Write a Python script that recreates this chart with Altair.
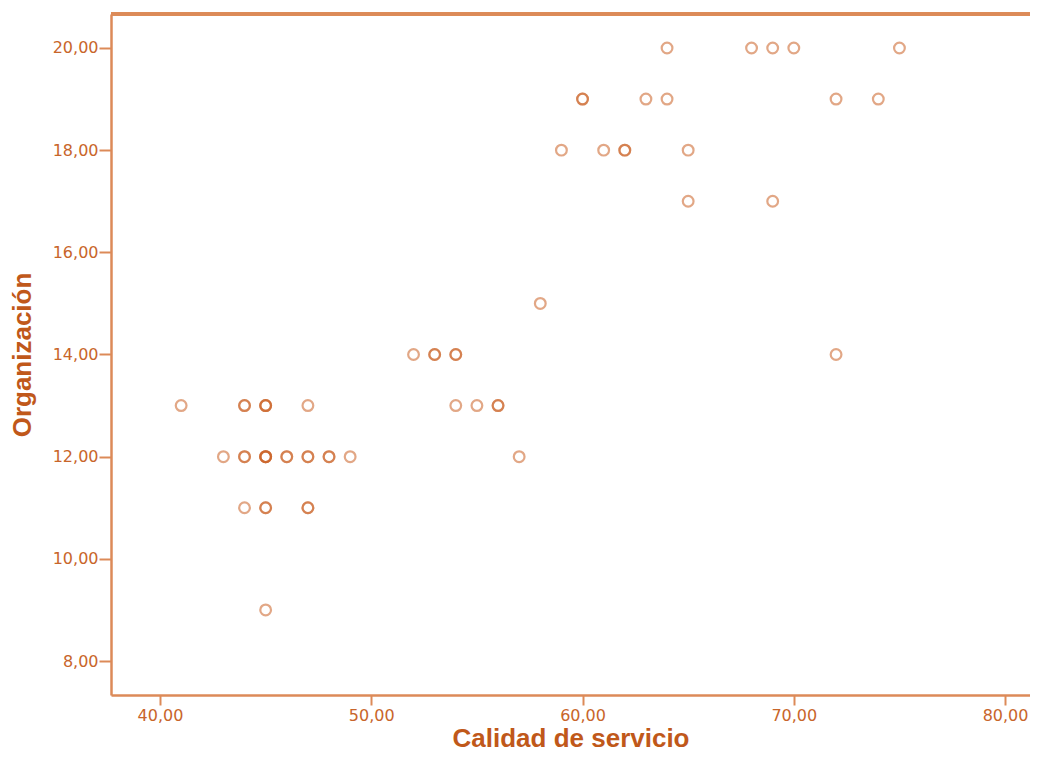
import altair as alt
import pandas as pd

# Calidad de servicio (x) and Organización (y); repeated pairs are overlapping cases
calidad = [
    64, 68, 69, 70, 75,
    60, 60, 63, 64, 72, 74,
    59, 61, 62, 62, 65,
    65, 69,
    58,
    52, 53, 53, 54, 54, 72,
    41, 44, 44, 45, 45, 45, 47, 54, 55, 56, 56,
    43, 44, 44, 45, 45, 45, 45, 46, 46, 47, 47, 48, 48, 49, 57,
    44, 45, 45, 47, 47,
    45,
]
organizacion = [
    20, 20, 20, 20, 20,
    19, 19, 19, 19, 19, 19,
    18, 18, 18, 18, 18,
    17, 17,
    15,
    14, 14, 14, 14, 14, 14,
    13, 13, 13, 13, 13, 13, 13, 13, 13, 13, 13,
    12, 12, 12, 12, 12, 12, 12, 12, 12, 12, 12, 12, 12, 12, 12,
    11, 11, 11, 11, 11,
    9,
]
x_ticks = [40, 50, 60, 70, 80]
y_ticks = [8, 10, 12, 14, 16, 18, 20]

df = pd.DataFrame({"Calidad de servicio": calidad, "Organización": organizacion})

W, H = 919, 681
axis_color = "#dc8a58"
label_color = "#c8652a"
title_color = "#c0581a"
fmt = "replace(format(datum.value, '.2f'), '.', ',')"

points = alt.Chart(df).mark_point(
    shape="circle", filled=False, size=115, strokeWidth=2.2,
    color="#cc6428", strokeOpacity=0.8,
).encode(
    x=alt.X("Calidad de servicio:Q",
            scale=alt.Scale(domain=[37.68, 81.18], nice=False, zero=False),
            axis=alt.Axis(values=x_ticks, labelExpr=fmt, grid=False,
                          domainColor=axis_color, domainWidth=2.5,
                          tickColor=axis_color, tickWidth=2, tickSize=10,
                          labelColor=label_color, labelFont="DejaVu Sans",
                          labelFontSize=16, labelPadding=2,
                          title="Calidad de servicio", titleColor=title_color,
                          titleFont="Liberation Sans", titleFontSize=26,
                          titleFontWeight="bold", titleBaseline="alphabetic",
                          titleY=51)),
    y=alt.Y("Organización:Q",
            scale=alt.Scale(domain=[7.335, 20.665], nice=False, zero=False),
            axis=alt.Axis(values=y_ticks, labelExpr=fmt, grid=False,
                          domainColor=axis_color, domainWidth=2.5,
                          tickColor=axis_color, tickWidth=2, tickSize=12,
                          labelColor=label_color, labelFont="DejaVu Sans",
                          labelFontSize=16, labelPadding=1,
                          title="Organización", titleColor=title_color,
                          titleFont="Liberation Sans", titleFontSize=26,
                          titleFontWeight="bold", titlePadding=17)),
)

top = alt.Chart(df).mark_rule(color=axis_color, strokeWidth=2.5).encode(
    x=alt.value(0), x2=alt.value(W), y=alt.value(0)
)

chart = alt.layer(top, points).properties(
    width=W, height=H,
    autosize=alt.AutoSizeParams(type="none"),
    padding={"left": 103, "top": 6, "right": 0, "bottom": 57},
).configure_view(stroke=None, fill="#f9f4ee").configure(background="white")

chart.save("out.html", embed_options={"renderer": "svg", "actions": False})
